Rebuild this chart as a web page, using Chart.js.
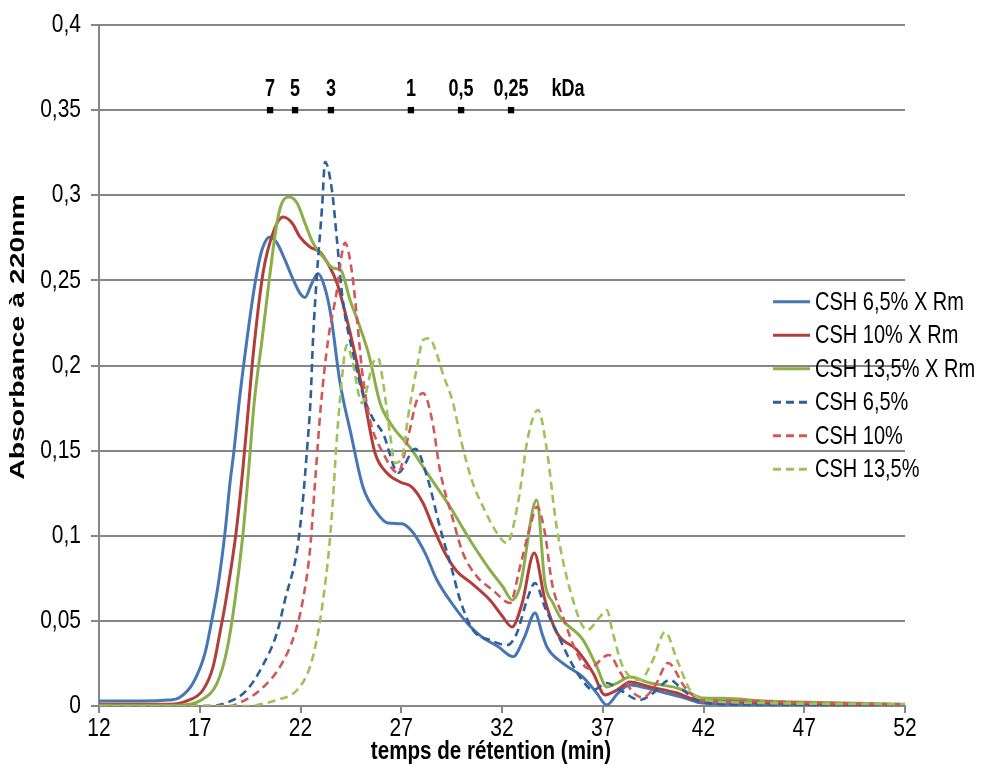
<!DOCTYPE html>
<html><head><meta charset="utf-8">
<script src="https://cdn.jsdelivr.net/npm/chart.js@4/dist/chart.umd.min.js"></script>
<style>html,body{margin:0;padding:0;background:#fff}canvas{display:block}</style>
</head><body>
<canvas id="c" width="995" height="765"></canvas>
<script>
// ---- axis ticks ----
const xTicks = [12, 17, 22, 27, 32, 37, 42, 47, 52];
const yTicks = [0, 0.05, 0.1, 0.15, 0.2, 0.25, 0.3, 0.35, 0.4];
const yTickLabels = ['0', '0,05', '0,1', '0,15', '0,2', '0,25', '0,3', '0,35', '0,4'];

// ---- series names ----
const seriesNames = ['CSH 6,5% X Rm', 'CSH 10% X Rm', 'CSH 13,5% X Rm', 'CSH 6,5%', 'CSH 10%', 'CSH 13,5%'];

// ---- CSH 6,5% X Rm ----
const tBlueRm = [12,14,15.5,16.0,16.67,17.26,17.6,17.9,18.25,18.5,18.7,18.95,19.34,19.74,20.09,20.49,20.83,21.23,21.58,21.97,22.22,22.57,22.87,23.2,23.5,23.96,24.5,25.1,25.8,26.34,27.04,27.6,28.18,28.77,29.5,30.4,31.06,31.8,32.55,33.1,33.64,34.0,34.23,35.03,36.02,36.7,37.2,37.76,38.35,39.0,39.99,40.98,41.97,44,48,52];
const vBlueRm = [0.003,0.003,0.0035,0.005,0.0135,0.031,0.0505,0.07,0.1015,0.131,0.150,0.178,0.215,0.248,0.268,0.2755,0.272,0.262,0.252,0.2425,0.240,0.2485,0.254,0.246,0.230,0.190,0.160,0.1286,0.1133,0.1075,0.107,0.1016,0.0899,0.074,0.0605,0.047,0.040,0.035,0.029,0.040,0.0546,0.042,0.0347,0.025,0.017,0.0076,0.0006,0.0076,0.0123,0.011,0.008,0.005,0.0017,0.001,0.0005,0.0005];

// ---- CSH 10% X Rm ----
const tRedRm = [12,15.5,16.36,17.16,17.66,18.0,18.3,18.8,19.15,19.45,19.64,20.14,20.64,21.13,21.58,21.97,22.47,22.97,23.4,23.81,24.2,24.7,25.2,25.7,26.29,26.94,27.53,28.08,28.58,29.17,29.77,30.5,31.4,32.0,32.5,32.99,33.6,34.13,34.73,35.72,36.52,37.11,37.71,38.35,39.35,40.69,41.68,43,45,48,52];
const vRedRm = [0.001,0.001,0.003,0.0094,0.023,0.0429,0.0623,0.1016,0.1404,0.18,0.205,0.2543,0.278,0.2872,0.2837,0.2755,0.2696,0.2667,0.259,0.2485,0.232,0.207,0.178,0.1486,0.1369,0.1316,0.1286,0.1192,0.1051,0.0899,0.079,0.072,0.0623,0.053,0.0464,0.060,0.0899,0.0623,0.0429,0.0329,0.0194,0.0065,0.0094,0.0141,0.0112,0.0076,0.0035,0.003,0.002,0.001,0.0005];

// ---- CSH 13,5% X Rm ----
const tGreenRm = [12,16.0,17.0,17.86,18.35,18.75,19.15,19.44,19.7,20.09,20.49,20.83,21.08,21.43,21.83,22.22,22.62,23.12,23.61,24.0,24.46,24.95,25.4,25.95,26.59,27.43,28.28,29.42,30.41,31.4,32.05,32.5,32.89,33.72,34.13,34.53,34.88,36.02,36.71,37.2,37.71,38.35,39.35,40.69,41.33,41.98,43,45,48,52];
const vGreenRm = [0.0005,0.0005,0.003,0.0135,0.0329,0.0623,0.1016,0.1404,0.178,0.215,0.2543,0.2837,0.2955,0.299,0.2955,0.2837,0.272,0.2637,0.2573,0.256,0.2385,0.2226,0.206,0.178,0.1639,0.1521,0.1369,0.117,0.0975,0.0799,0.0699,0.0623,0.070,0.121,0.0722,0.0605,0.0523,0.0388,0.0229,0.0112,0.0135,0.017,0.0135,0.0106,0.0076,0.0047,0.0045,0.003,0.002,0.001];

// ---- CSH 6,5% ----
const tBlue = [12,17.5,18.65,19.34,20.09,20.83,21.23,21.83,22.12,22.32,22.5,22.62,22.82,23.07,23.22,23.56,23.81,24.08,24.6,25.1,25.55,26.1,26.85,27.7,28.3,28.92,29.52,29.92,30.56,31.4,32.25,32.74,33.24,33.64,34.13,34.73,35.37,35.87,36.52,37.2,37.86,38.85,39.5,40.34,40.98,41.98,44,52];
const vBlue = [0,0,0.0035,0.0094,0.023,0.0429,0.0623,0.0916,0.121,0.150,0.18,0.215,0.254,0.293,0.3195,0.303,0.2737,0.24,0.2073,0.183,0.1698,0.160,0.137,0.151,0.134,0.105,0.080,0.0623,0.0446,0.0388,0.0358,0.0429,0.0623,0.0722,0.058,0.0429,0.027,0.017,0.0094,0.0135,0.0094,0.0035,0.0076,0.0153,0.0094,0.002,0.001,0.0005];

// ---- CSH 10% ----
const tRed = [12,18.5,19.0,19.99,20.98,21.73,22.12,22.47,22.72,23.0,23.37,23.81,24.06,24.21,24.56,24.8,25.05,25.45,26.1,26.84,27.34,27.78,28.08,28.53,28.92,29.57,30.06,30.76,31.55,32.4,32.89,33.39,33.74,34.13,34.48,35.03,35.72,36.3,37.3,37.86,38.5,39.0,39.6,40.24,41.08,42,44,47,52];
const vRed = [0,0,0.002,0.0094,0.023,0.0429,0.0623,0.0916,0.131,0.175,0.215,0.2443,0.266,0.272,0.2543,0.228,0.1974,0.168,0.1486,0.1369,0.158,0.1797,0.1838,0.168,0.1386,0.1093,0.0899,0.076,0.068,0.0605,0.0816,0.105,0.117,0.1016,0.0722,0.0523,0.031,0.022,0.030,0.020,0.008,0.005,0.012,0.0253,0.011,0.003,0.003,0.002,0.001];

// ---- CSH 13,5% ----
const tGreen = [12,19.5,20.0,20.83,21.83,22.47,22.87,23.12,23.41,23.61,23.76,23.96,24.3,24.56,25.05,25.6,25.85,26.1,26.44,26.69,27.04,27.34,27.78,28.08,28.4,28.7,29.07,29.57,30.0,30.5,31.06,31.75,32.25,32.79,33.29,33.79,34.23,34.7,35.52,36.22,36.86,37.2,37.5,38.0,38.85,39.49,40.09,40.69,41.33,41.98,44,52];
const vGreen = [0,0,0.001,0.0035,0.0094,0.023,0.0429,0.0623,0.0916,0.121,0.150,0.1797,0.212,0.2032,0.178,0.2015,0.2044,0.19,0.16,0.1427,0.146,0.17,0.199,0.215,0.216,0.209,0.195,0.178,0.1545,0.1327,0.117,0.1016,0.0957,0.119,0.158,0.1739,0.150,0.106,0.0623,0.0446,0.0523,0.0564,0.0429,0.023,0.0153,0.027,0.0435,0.027,0.0094,0.004,0.002,0.001];

// ---- molecular weight markers ----
const markerTimes = [20.49, 21.73, 23.51, 27.48, 29.97, 32.45];
const markerLevel = 0.35;
const markerLabels = ['7', '5', '3', '1', '0,5', '0,25'];
const unitLabel = 'kDa';
const unitTime = 35.28;

// ---- titles ----
const xTitle = 'temps de rétention (min)';
const yTitle = 'Absorbance à 220nm';

const FONT = '"Liberation Sans", Arial, sans-serif';
const SY = 1.3; // vertical stretch of all text in the original
const pts = (t, v) => t.map((x, i) => ({x: x, y: v[i]}));

const styles = [
  {c: '#4676b3', d: []},
  {c: '#b23d3a', d: []},
  {c: '#8cae48', d: []},
  {c: '#2f5f98', d: [8, 5]},
  {c: '#d0585a', d: [8, 5]},
  {c: '#9dc257', d: [8, 5]}
];
const series = [[tBlueRm, vBlueRm], [tRedRm, vRedRm], [tGreenRm, vGreenRm], [tBlue, vBlue], [tRed, vRed], [tGreen, vGreen]];

const datasets = series.map((s, i) => ({
  type: 'line',
  label: seriesNames[i],
  data: pts(s[0], s[1]),
  borderColor: styles[i].c,
  borderDash: styles[i].d,
  borderWidth: i < 3 ? 3 : 2.6,
  pointRadius: 0,
  fill: false,
  cubicInterpolationMode: 'monotone',
  order: 7 - i
}));
datasets.push({
  type: 'scatter',
  label: 'markers',
  data: markerTimes.map(t => ({x: t, y: markerLevel})),
  pointStyle: 'rect',
  pointRadius: 4.5,
  pointBackgroundColor: '#000',
  pointBorderWidth: 0,
  order: 0
});

function txt(ctx, s, x, y, font, align, sx, sy) {
  ctx.save();
  ctx.translate(x, y);
  ctx.scale(sx, sy);
  ctx.font = font;
  ctx.textAlign = align;
  ctx.textBaseline = 'middle';
  ctx.fillStyle = '#000';
  ctx.fillText(s, 0, 0);
  ctx.restore();
}

const overlay = {
  id: 'overlay',
  afterDraw(chart) {
    const ctx = chart.ctx, ca = chart.chartArea;
    const xs = chart.scales.x, ys = chart.scales.y;
    // tick labels
    yTicks.forEach((v, i) => txt(ctx, yTickLabels[i], 81, ys.getPixelForValue(v), '20px ' + FONT, 'right', 1.05, SY));
    xTicks.forEach(v => txt(ctx, String(v), xs.getPixelForValue(v), 729, '20px ' + FONT, 'center', 1.05, SY));
    // marker labels
    const my = ys.getPixelForValue(markerLevel);
    markerTimes.forEach((t, i) => txt(ctx, markerLabels[i], xs.getPixelForValue(t), my - 21, 'bold 18px ' + FONT, 'center', 1, SY));
    txt(ctx, unitLabel, xs.getPixelForValue(unitTime), my - 21, 'bold 18px ' + FONT, 'center', 1, SY);
    // legend
    const lx = ca.right - 132, ly0 = ys.getPixelForValue(0.2375), step = 33.5;
    seriesNames.forEach((n, i) => {
      const y = ly0 + i * step;
      ctx.save();
      ctx.beginPath();
      ctx.strokeStyle = styles[i].c;
      ctx.lineWidth = 3;
      ctx.setLineDash(styles[i].d);
      ctx.moveTo(lx, y); ctx.lineTo(lx + 37, y);
      ctx.stroke();
      ctx.restore();
      txt(ctx, n, lx + 42, y + 1, '20px ' + FONT, 'left', 1, SY);
    });
    // axis titles
    txt(ctx, xTitle, (ca.left + ca.right) / 2 - 11, 752, 'bold 20px ' + FONT, 'center', 1.03, SY);
    ctx.save();
    ctx.translate(18, 337);
    ctx.rotate(-Math.PI / 2);
    txt(ctx, yTitle, 0, 0, 'bold 20px ' + FONT, 'center', 1.42, 1);
    ctx.restore();
  }
};

new Chart(document.getElementById('c'), {
  data: {datasets: datasets},
  options: {
    responsive: false,
    animation: false,
    devicePixelRatio: 1,
    layout: {padding: {top: 25, right: 90, left: 0, bottom: 0}},
    plugins: {legend: {display: false}, tooltip: {enabled: false}},
    scales: {
      x: {
        type: 'linear', min: 12, max: 52,
        afterBuildTicks: s => { s.ticks = xTicks.map(v => ({value: v})); },
        afterFit: s => { s.height = 59; },
        grid: {drawOnChartArea: false, drawTicks: true, tickLength: 7, color: '#868686', lineWidth: 2},
        border: {color: '#868686', width: 2},
        ticks: {color: 'rgba(0,0,0,0)', font: {family: FONT, size: 19}, padding: 3, maxRotation: 0}
      },
      y: {
        type: 'linear', min: 0, max: 0.4,
        afterBuildTicks: s => { s.ticks = yTicks.map(v => ({value: v})); },
        afterFit: s => { s.width = 99; },
        grid: {drawTicks: true, tickLength: 8, color: '#868686', lineWidth: 2},
        border: {color: '#868686', width: 2},
        ticks: {color: 'rgba(0,0,0,0)', font: {family: FONT, size: 19}, padding: 10,
          callback: (v, i) => yTickLabels[i]}
      }
    }
  },
  plugins: [overlay]
});
</script>
</body></html>
